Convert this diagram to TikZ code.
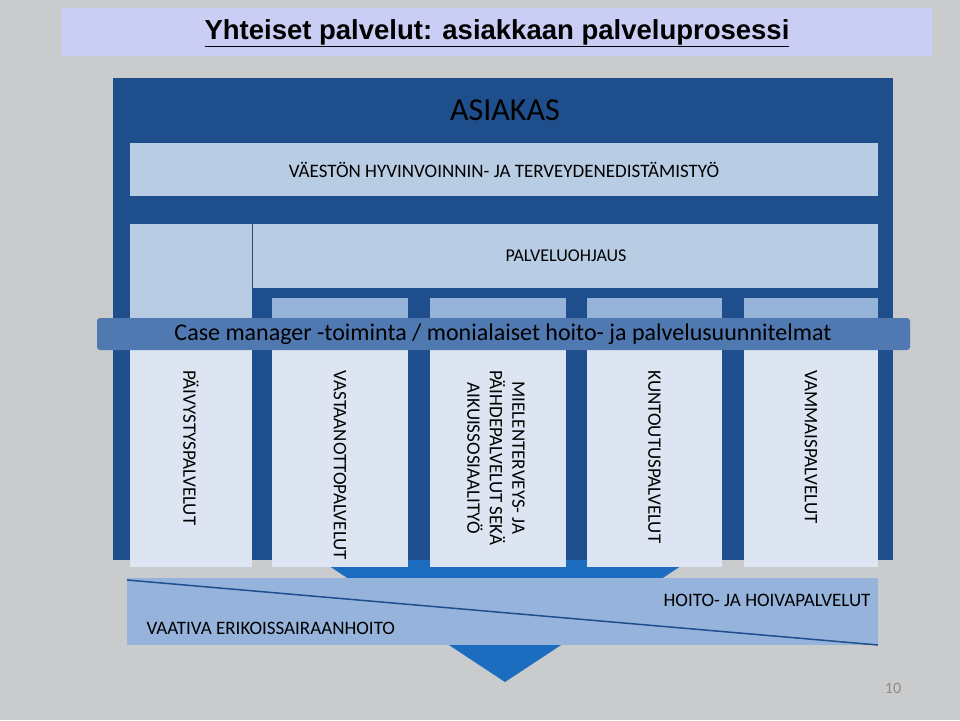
\documentclass[tikz,border=0pt]{standalone}
\usepackage{fontspec}
\setmainfont{Carlito}
\setsansfont{Liberation Sans}
\definecolor{bg}{HTML}{C9CBCD}
\definecolor{darkblue}{HTML}{1F4E8C}
\definecolor{funnel}{HTML}{1C6CC0}
\definecolor{lightbox}{HTML}{B8CCE4}
\definecolor{colbox}{HTML}{DCE5F1}
\definecolor{coltop}{HTML}{95B3D7}
\definecolor{barblue}{HTML}{4F79B0}
\definecolor{bottombar}{HTML}{95B3DB}
\definecolor{titleband}{HTML}{CACEF5}
\tikzset{
  box/.style={fill=lightbox, inner sep=0pt},
  column/.style={fill=colbox, inner sep=0pt, minimum width=136pt, minimum height=269pt},
  vtext/.style={rotate=-90, font=\fontsize{19}{22.5}\selectfont, align=center, anchor=west}
}
\begin{document}
\begin{tikzpicture}[x=1pt,y=-1pt]
\useasboundingbox (0,0) rectangle (960,720);
\fill[bg] (0,0) rectangle (960,720);
% title
\fill[titleband] (62,8) rectangle (932,56);
\node[font=\sffamily\bfseries\fontsize{27.5}{30}\selectfont] (title) at (497,33) {\underline{Yhteiset palvelut: asiakkaan palveluprosessi}};
% house and funnel
\fill[darkblue] (113,78) -- (893,78) -- (893,560) -- (113,560) -- cycle;
\fill[funnel] (320,560) -- (690,560) -- (505,682) -- cycle;
\node[font=\fontsize{32}{34}\selectfont] (asiakas) at (505,110) {ASIAKAS};
\node[box, minimum width=748pt, minimum height=53pt, font=\fontsize{19}{20}\selectfont] (vaesto) at (504,169.5) {VÄESTÖN HYVINVOINNIN- JA TERVEYDENEDISTÄMISTYÖ};
\node[box, minimum width=624pt, minimum height=64pt, font=\fontsize{18}{20}\selectfont] (ohjaus) at (566,256) {PALVELUOHJAUS};
% columns
\node[column, minimum width=122pt, minimum height=343pt] (paivystys) at (191,395.5) {};
\fill[lightbox] (130,224) rectangle (252,318);
\node[column] (vastaanotto) at (340,432.5) {};
\node[column] (mielen) at (498,432.5) {};
\node[column, minimum width=135pt] (kuntoutus) at (654.5,432.5) {};
\node[column, minimum width=134pt] (vammais) at (811,432.5) {};
\foreach \x/\w in {272/136,430/136,587/135,744/134}
  \fill[coltop] (\x,298) rectangle ++(\w,22);
\draw[black!20] (253,224) -- (253,288);
% case manager bar
\fill[barblue, rounded corners=3pt] (97,318) rectangle (910,350);
\node[font=\fontsize{24}{26}\selectfont] (case) at (503,334) {Case manager -toiminta / monialaiset hoito- ja palvelusuunnitelmat};
% vertical texts
\node[vtext] at (191,367) {PÄIVYSTYSPALVELUT};
\node[vtext] at (340,367) {VASTAANOTTOPALVELUT};
\node[vtext] at (496,367) {MIELENTERVEYS- JA\\PÄIHDEPALVELUT SEKÄ\\AIKUISSOSIAALITYÖ};
\node[vtext] at (654.5,367) {KUNTOUTUSPALVELUT};
\node[vtext] at (811,367) {VAMMAISPALVELUT};
% bottom bar
\fill[bottombar] (127,578) rectangle (878,645);
\draw[darkblue, line width=1.5pt] (127,580) -- (878,645);
\node[font=\fontsize{19}{20}\selectfont, anchor=east] (hoito) at (874,600) {HOITO- JA HOIVAPALVELUT};
\node[font=\fontsize{19}{20}\selectfont, anchor=west] (vaativa) at (143,628) {VAATIVA ERIKOISSAIRAANHOITO};
\node[font=\fontsize{16}{18}\selectfont, text=black!45] (page) at (893,688) {10};
\end{tikzpicture}
\end{document}
